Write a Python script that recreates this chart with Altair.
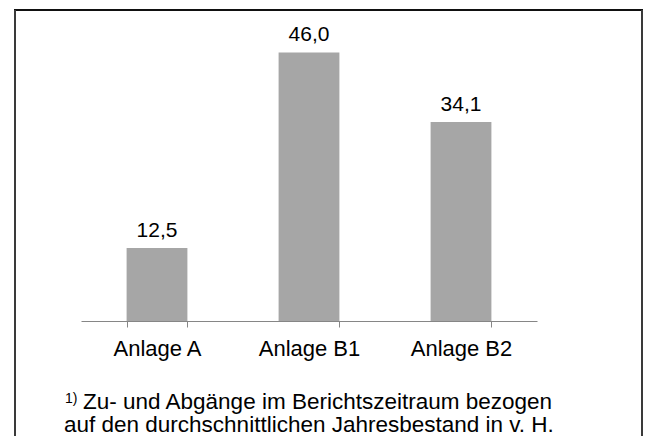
import altair as alt
import pandas as pd

categories = ["Anlage A", "Anlage B1", "Anlage B2"]
values = [12.5, 46.0, 34.1]
labels = [f"{v:.1f}".replace(".", ",") for v in values]

footnote_mark = "1)"
footnote_line1 = "Zu- und Abgänge im Berichtszeitraum bezogen"
footnote_line2 = "auf den durchschnittlichen Jahresbestand in v. H."

df = pd.DataFrame({"cat": categories, "val": values, "label": labels})
one = pd.DataFrame({"a": [0]})

FONT = "Liberation Sans"

x = alt.X(
    "cat:N",
    sort=categories,
    title=None,
    scale=alt.Scale(range=[73, 529], paddingInner=0.6, paddingOuter=0.3),
    axis=alt.Axis(
        tickBand="extent",
        domainColor="#868686",
        tickColor="#868686",
        tickSize=6,
        labelFontSize=22,
        labelColor="#000000",
        labelPadding=11,
        labelAngle=0,
        grid=False,
        labelFont=FONT,
    ),
)
y = alt.Y(
    "val:Q",
    scale=alt.Scale(domain=[0, 50], range=[313, 21.25]),
    axis=None,
)

bars = alt.Chart(df).mark_bar(color="#a6a6a6").encode(x=x, y=y)
texts = alt.Chart(df).mark_text(
    fontSize=21, dy=-11.5, baseline="alphabetic", color="#000000", font=FONT
).encode(x=x, y=y, text="label:N")

frame_top = alt.Chart(one).mark_rule(color="#111111", strokeWidth=2).encode(
    x=alt.value(6), x2=alt.value(635), y=alt.value(2)
)
frame_left = alt.Chart(one).mark_rule(color="#3a3a3a", strokeWidth=2).encode(
    x=alt.value(7), y=alt.value(2), y2=alt.value(460)
)
frame_right = alt.Chart(one).mark_rule(color="#3a3a3a", strokeWidth=2).encode(
    x=alt.value(634), y=alt.value(2), y2=alt.value(460)
)

fn_mark = alt.Chart(one).mark_text(
    text=footnote_mark, fontSize=14, align="left", baseline="alphabetic", font=FONT, color="#000000"
).encode(x=alt.value(57), y=alt.value(395))
fn1 = alt.Chart(one).mark_text(
    text=footnote_line1, fontSize=22.5, align="left", baseline="alphabetic", font=FONT, color="#000000"
).encode(x=alt.value(75), y=alt.value(401))
fn2 = alt.Chart(one).mark_text(
    text=footnote_line2, fontSize=22.5, align="left", baseline="alphabetic", font=FONT, color="#000000"
).encode(x=alt.value(56), y=alt.value(423.5))

chart = (
    alt.layer(bars, texts, frame_top, frame_left, frame_right, fn_mark, fn1, fn2)
    .properties(
        width=635,
        height=313,
        autosize=alt.AutoSizeParams(type="none"),
        padding={"left": 0, "top": 0, "right": 0, "bottom": 115},
    )
    .configure(font=FONT)
    .configure_view(stroke="transparent", strokeWidth=0)
)

chart.save("out.html", embed_options={"renderer": "svg", "actions": False})
